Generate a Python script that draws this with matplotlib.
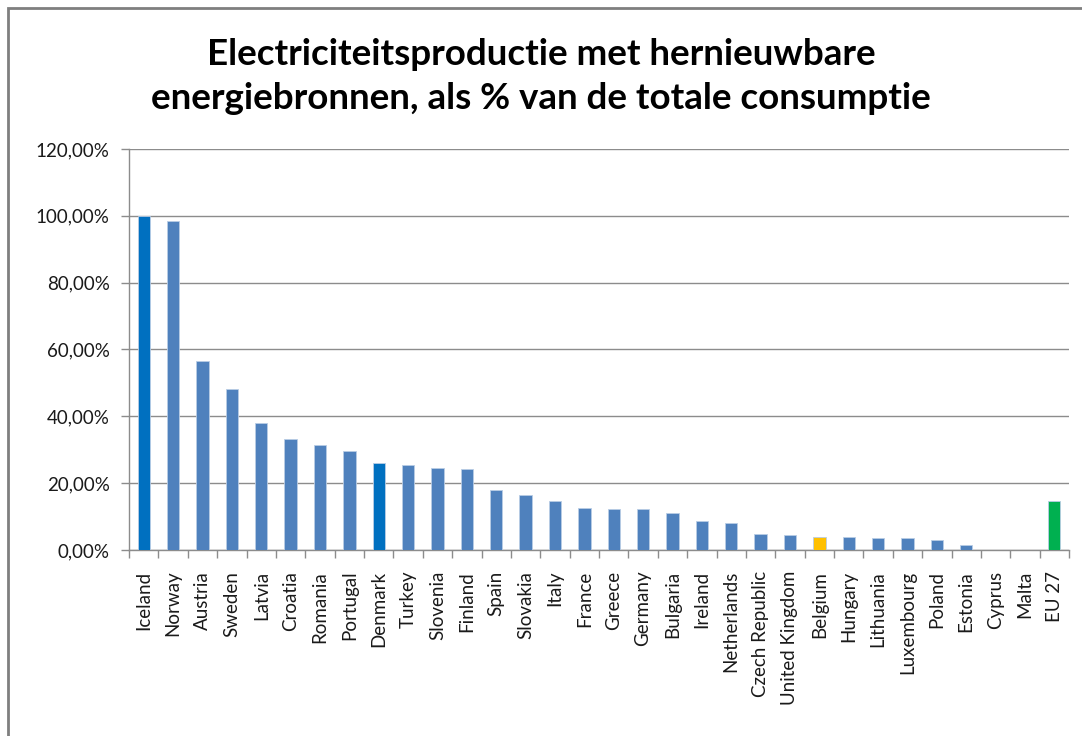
import matplotlib
matplotlib.use("Agg")
import matplotlib.pyplot as plt
from matplotlib.ticker import FuncFormatter, FixedLocator
from matplotlib.patches import Rectangle

countries = ["Iceland", "Norway", "Austria", "Sweden", "Latvia", "Croatia", "Romania",
             "Portugal", "Denmark", "Turkey", "Slovenia", "Finland", "Spain", "Slovakia",
             "Italy", "France", "Greece", "Germany", "Bulgaria", "Ireland", "Netherlands",
             "Czech Republic", "United Kingdom", "Belgium", "Hungary", "Lithuania",
             "Luxembourg", "Poland", "Estonia", "Cyprus", "Malta", "EU 27"]
share = [100.0, 98.5, 56.6, 48.3, 37.9, 33.3, 31.5, 29.5, 26.1, 25.4, 24.6, 24.3,
         17.9, 16.6, 14.7, 12.6, 12.2, 12.2, 11.2, 8.7, 8.1, 4.8, 4.5, 3.9, 3.9,
         3.6, 3.6, 3.0, 1.4, 0.0, 0.0, 14.7]

# highlight colours
special = {"Iceland": "#0070C0", "Denmark": "#0070C0", "Belgium": "#FFC000", "EU 27": "#00B050"}
colors = [special.get(c, "#4F81BD") for c in countries]

plt.rcParams['font.family'] = ['Lato', 'DejaVu Sans']

fig = plt.figure(figsize=(10.82, 7.36), dpi=100)
ax = fig.add_axes([0.1193, 0.2527, 0.988 - 0.1193, 0.7976 - 0.2527])

x = list(range(len(countries)))
ax.bar(x, share, width=0.42, color=colors, edgecolor="#B9CDE5", linewidth=0.6, zorder=3)

ax.set_xlim(-0.5, len(countries) - 0.5)
ax.set_ylim(0, 120)
ax.set_yticks(range(0, 121, 20))
ax.yaxis.set_major_formatter(FuncFormatter(lambda v, p: f"{v:.2f}".replace(".", ",") + "%"))
ax.grid(axis="y", color="#8C8C8C", linewidth=1.0, zorder=0)

ax.set_xticks(x)
ax.set_xticklabels(countries, rotation=90, fontsize=13.5, color="#1a1a1a")
ax.xaxis.set_minor_locator(FixedLocator([i - 0.5 for i in range(len(countries) + 1)]))
ax.tick_params(axis="x", which="major", length=0, pad=15)
ax.tick_params(axis="x", which="minor", length=6, color="#8C8C8C", width=1)
ax.tick_params(axis="y", length=6, color="#8C8C8C", width=1, labelsize=13.5,
               labelcolor="#1a1a1a", pad=8)

for s in ["top", "right"]:
    ax.spines[s].set_visible(False)
for s in ["left", "bottom"]:
    ax.spines[s].set_color("#8C8C8C")
    ax.spines[s].set_linewidth(1.0)

fig.text(0.5, 0.896, "Electriciteitsproductie met hernieuwbare\nenergiebronnen, als % van de totale consumptie",
         ha="center", va="center", fontsize=26.5, fontweight="bold", linespacing=1.4)

# chart border
fig.patches.append(Rectangle((0.007, -0.05), 1.05, 1.039, transform=fig.transFigure,
                             fill=False, edgecolor="#7F7F7F", linewidth=2))

fig.savefig("out.png", dpi=100)
